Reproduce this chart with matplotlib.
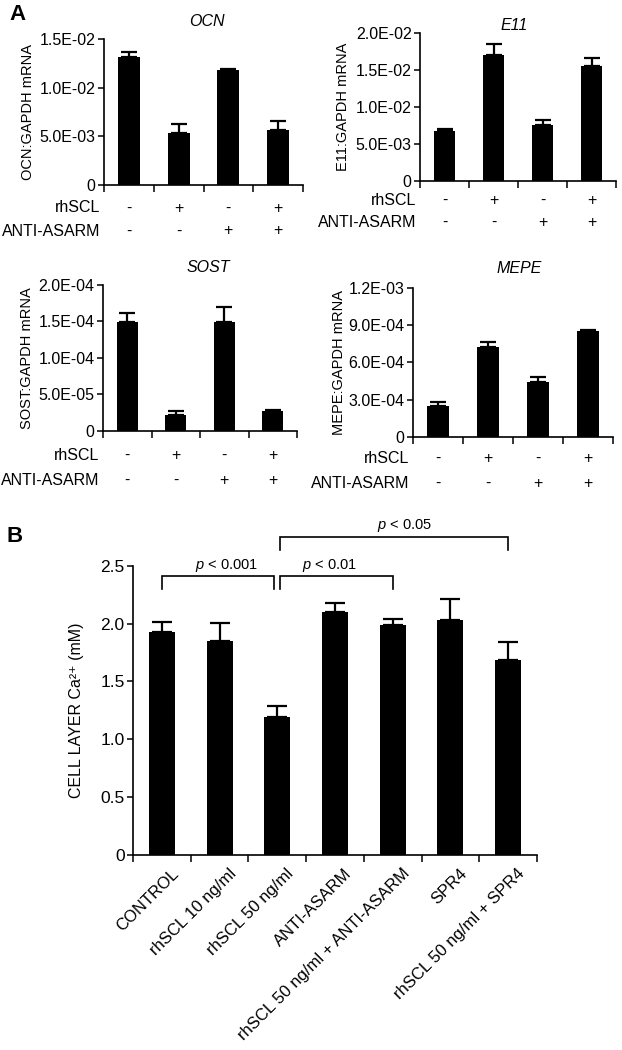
import matplotlib
matplotlib.use("Agg")
import matplotlib.pyplot as plt
import numpy as np

plt.rcParams['font.family'] = ['Liberation Sans', 'DejaVu Sans']
plt.rcParams['mathtext.fontset'] = 'custom'
plt.rcParams['mathtext.rm'] = 'Liberation Sans'
plt.rcParams['mathtext.it'] = 'Liberation Sans:italic'

# ---------------- data ----------------
rhscl_signs = ['-', '+', '-', '+']
asarm_signs = ['-', '-', '+', '+']

ocn_vals = [1.31e-2, 5.3e-3, 1.18e-2, 5.7e-3]
ocn_err = [6e-4, 1.0e-3, 1e-4, 9e-4]
ocn_ticks = [0, 5e-3, 1e-2, 1.5e-2]
ocn_ticklabels = ['0', '5.0E-03', '1.0E-02', '1.5E-02']

e11_vals = [6.7e-3, 1.70e-2, 7.6e-3, 1.55e-2]
e11_err = [3e-4, 1.6e-3, 7e-4, 1.2e-3]
e11_ticks = [0, 5e-3, 1e-2, 1.5e-2, 2e-2]
e11_ticklabels = ['0', '5.0E-03', '1.0E-02', '1.5E-02', '2.0E-02']

sost_vals = [1.49e-4, 2.1e-5, 1.49e-4, 2.7e-5]
sost_err = [1.2e-5, 6e-6, 2.1e-5, 1.5e-6]
sost_ticks = [0, 5e-5, 1e-4, 1.5e-4, 2e-4]
sost_ticklabels = ['0', '5.0E-05', '1.0E-04', '1.5E-04', '2.0E-04']

mepe_vals = [2.5e-4, 7.23e-4, 4.42e-4, 8.55e-4]
mepe_err = [2.8e-5, 4e-5, 3.8e-5, 1e-5]
mepe_ticks = [0, 3e-4, 6e-4, 9e-4, 1.2e-3]
mepe_ticklabels = ['0', '3.0E-04', '6.0E-04', '9.0E-04', '1.2E-03']

b_categories = ['CONTROL', 'rhSCL 10 ng/ml', 'rhSCL 50 ng/ml', 'ANTI-ASARM',
                'rhSCL 50 ng/ml + ANTI-ASARM', 'SPR4', 'rhSCL 50 ng/ml + SPR4']
b_vals = [1.93, 1.845, 1.19, 2.10, 1.987, 2.033, 1.686]
b_err = [0.085, 0.16, 0.095, 0.075, 0.055, 0.175, 0.155]
b_ticks = [0, 0.5, 1.0, 1.5, 2.0, 2.5]
b_ticklabels = ['0', '0.5', '1.0', '1.5', '2.0', '2.5']

bracket_left = [0.0, 2.05, 2.05]
bracket_right = [1.95, 4.0, 6.0]
bracket_y = [2.41, 2.41, 2.745]
bracket_drop = [0.11, 0.11, 0.11]
bracket_text = ['$p$ < 0.001', '$p$ < 0.01', '$p$ < 0.05']
bracket_text_x = [1.12, 2.91, 4.2]
bracket_text_y = [2.50, 2.50, 2.85]

# ---------------- figure ----------------
W, H = 622, 1050
fig = plt.figure(figsize=(W / 100, H / 100), dpi=100)


def rect(left_px, right_px, top_px, bottom_px):
    return [left_px / W, 1 - bottom_px / H, (right_px - left_px) / W, (bottom_px - top_px) / H]


def style_axes(ax, lw=1.2):
    for s in ['top', 'right']:
        ax.spines[s].set_visible(False)
    for s in ['left', 'bottom']:
        ax.spines[s].set_linewidth(lw)
        ax.spines[s].set_color('black')


def small_panel(r, title, vals, errs, ticks, ticklabels, ylabel, title_off, ylabel_x,
                row_off):
    ax = fig.add_axes(r)
    n = len(vals)
    x = np.arange(n)
    ax.bar(x, vals, width=0.44, color='black', zorder=2)
    ax.errorbar(x, vals, yerr=[np.zeros(n), errs], fmt='none', ecolor='black',
                elinewidth=1.6, capsize=5.5, capthick=1.6, zorder=1)
    ax.set_xlim(-0.5, n - 0.5)
    ax.set_ylim(0, ticks[-1])
    ax.set_xticks(np.arange(n + 1) - 0.5)
    ax.set_xticklabels([])
    ax.set_yticks(ticks)
    ax.set_yticklabels(ticklabels, fontsize=11.5)
    ax.tick_params(axis='x', direction='out', length=5, width=1.1)
    ax.tick_params(axis='y', direction='out', length=4, width=1.1, pad=2)
    style_axes(ax)
    ax.set_ylabel(ylabel, fontsize=10.5, va='center')
    ax.yaxis.set_label_coords(ylabel_x, 0.5)
    ax.annotate(title, xy=(0.5, 1), xycoords='axes fraction',
                xytext=title_off, textcoords='offset pixels',
                ha='center', va='center', fontsize=11.5, style='italic')
    for i in range(n):
        ax.annotate(rhscl_signs[i], xy=(x[i], 0), xycoords=('data', 'axes fraction'),
                    xytext=(0, row_off[0]), textcoords='offset pixels',
                    ha='center', va='center', fontsize=11.5)
        ax.annotate(asarm_signs[i], xy=(x[i], 0), xycoords=('data', 'axes fraction'),
                    xytext=(0, row_off[1]), textcoords='offset pixels',
                    ha='center', va='center', fontsize=11.5)
    ax.annotate('rhSCL', xy=(0, 0), xycoords='axes fraction',
                xytext=(-4, row_off[0]), textcoords='offset pixels',
                ha='right', va='center', fontsize=11.5)
    ax.annotate('ANTI-ASARM', xy=(0, 0), xycoords='axes fraction',
                xytext=(-4, row_off[1]), textcoords='offset pixels',
                ha='right', va='center', fontsize=11.5)
    return ax


small_panel(rect(104, 303, 39, 185), 'OCN', ocn_vals, ocn_err, ocn_ticks, ocn_ticklabels,
            'OCN:GAPDH mRNA', (3, 17), (28 - 104) / 199, (-23, -46))
small_panel(rect(420, 616, 33.3, 180.7), 'E11', e11_vals, e11_err, e11_ticks, e11_ticklabels,
            'E11:GAPDH mRNA', (-4, 8), (343 - 420) / 196, (-20, -42))
small_panel(rect(103, 297, 285, 430.7), 'SOST', sost_vals, sost_err, sost_ticks, sost_ticklabels,
            'SOST:GAPDH mRNA', (8, 17), (27 - 103) / 194, (-25, -50))
small_panel(rect(413, 613, 288.3, 436.7), 'MEPE', mepe_vals, mepe_err, mepe_ticks, mepe_ticklabels,
            'MEPE:GAPDH mRNA', (6, 20), (339 - 413) / 200, (-22, -47))

# ---------------- panel B ----------------
axb = fig.add_axes(rect(133, 537, 565.7, 855))
nb = len(b_vals)
xb = np.arange(nb)
axb.bar(xb, b_vals, width=0.45, color='black', zorder=2)
axb.errorbar(xb, b_vals, yerr=[np.zeros(nb), b_err], fmt='none', ecolor='black',
             elinewidth=1.6, capsize=7, capthick=1.6, zorder=1)
axb.set_xlim(-0.5, nb - 0.5)
axb.set_ylim(0, 2.5)
axb.set_xticks(np.arange(nb + 1) - 0.5)
axb.set_xticklabels([])
axb.set_yticks(b_ticks)
axb.set_yticklabels(b_ticklabels, fontsize=12.5)
axb.tick_params(axis='x', direction='out', length=5, width=1.1)
axb.tick_params(axis='y', direction='out', length=4, width=1.1, pad=2)
style_axes(axb)
axb.set_ylabel('CELL LAYER Ca²⁺ (mM)', fontsize=11.5, va='center')
axb.yaxis.set_label_coords((76 - 133) / 404, 0.5)
for i in range(nb):
    axb.annotate(b_categories[i], xy=(xb[i], 0), xycoords=('data', 'axes fraction'),
                 xytext=(9, -11), textcoords='offset pixels', rotation=45,
                 rotation_mode='anchor', ha='right', va='top', fontsize=12)

for l, r, y, d, t, tx, ty in zip(bracket_left, bracket_right, bracket_y, bracket_drop,
                                  bracket_text, bracket_text_x, bracket_text_y):
    axb.plot([l, l, r, r], [y - d, y, y, y - d], color='black', lw=1.2,
             clip_on=False, solid_joinstyle='miter')
    axb.text(tx, ty, t, ha='center', va='center', fontsize=10.5, clip_on=False)

# panel letters
fig.text(17 / W, 1 - 15 / H, 'A', fontsize=16, fontweight='bold', ha='center', va='center')
fig.text(15 / W, 1 - 536 / H, 'B', fontsize=16, fontweight='bold', ha='center', va='center')

fig.savefig('out.png', dpi=100)
